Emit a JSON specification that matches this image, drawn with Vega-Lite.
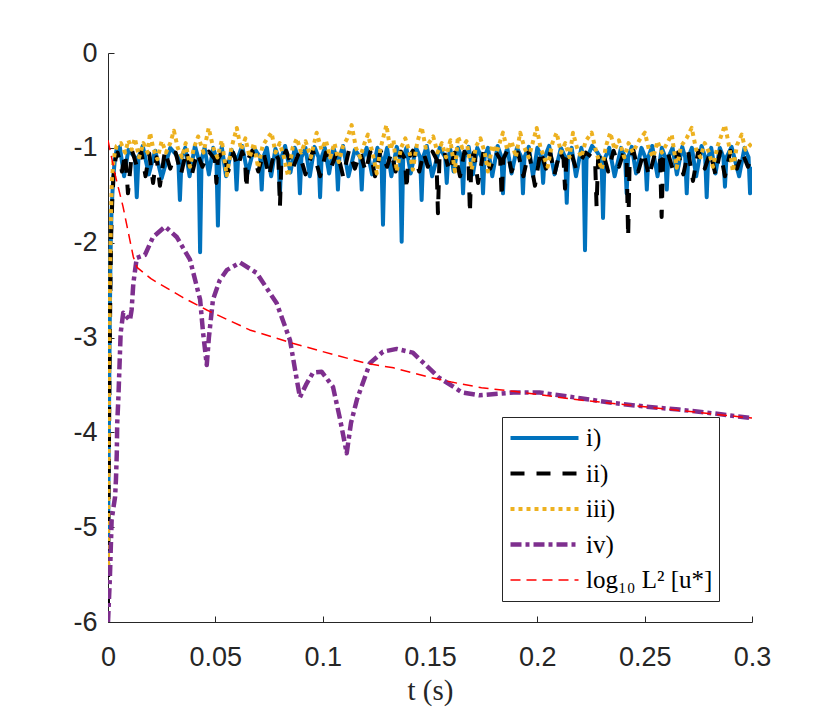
{
  "$schema": "https://vega.github.io/schema/vega-lite/v6.json",
  "width": 644,
  "height": 569,
  "autosize": "none",
  "padding": {"left": 108, "top": 53, "right": 78, "bottom": 97},
  "background": "white",
  "config": {
    "view": {"stroke": null},
    "axis": {
      "grid": false,
      "domainColor": "#262626",
      "tickColor": "#262626",
      "labelColor": "#262626",
      "titleColor": "#262626",
      "labelFont": "Liberation Sans",
      "labelFontSize": 27,
      "tickSize": -6,
      "domainWidth": 1,
      "tickWidth": 1,
      "labelFlush": false
    }
  },
  "datasets": {
    "series": [
      {"s": "i)", "t": 0, "v": -5.3},
      {"s": "i)", "t": 0.0004, "v": -4.0},
      {"s": "i)", "t": 0.0008, "v": -2.9},
      {"s": "i)", "t": 0.0012, "v": -2.1},
      {"s": "i)", "t": 0.0016, "v": -1.7},
      {"s": "i)", "t": 0.002, "v": -1.5},
      {"s": "i)", "t": 0.0025, "v": -1.3},
      {"s": "i)", "t": 0.0032, "v": -1.12},
      {"s": "i)", "t": 0.004, "v": -1.02},
      {"s": "i)", "t": 0.0055, "v": -0.99},
      {"s": "i)", "t": 0.0075, "v": -1.3},
      {"s": "i)", "t": 0.0095, "v": -1.02},
      {"s": "i)", "t": 0.0126, "v": -1.1},
      {"s": "i)", "t": 0.0134, "v": -1.52},
      {"s": "i)", "t": 0.0142, "v": -1.1},
      {"s": "i)", "t": 0.0162, "v": -0.98},
      {"s": "i)", "t": 0.019, "v": -1.28},
      {"s": "i)", "t": 0.022, "v": -1.03},
      {"s": "i)", "t": 0.025, "v": -1.32},
      {"s": "i)", "t": 0.029, "v": -1.0},
      {"s": "i)", "t": 0.0327, "v": -1.1},
      {"s": "i)", "t": 0.0335, "v": -1.55},
      {"s": "i)", "t": 0.0343, "v": -1.1},
      {"s": "i)", "t": 0.036, "v": -1.0},
      {"s": "i)", "t": 0.038, "v": -1.3},
      {"s": "i)", "t": 0.0405, "v": -0.98},
      {"s": "i)", "t": 0.0422, "v": -1.12},
      {"s": "i)", "t": 0.0429, "v": -2.1},
      {"s": "i)", "t": 0.0436, "v": -1.12},
      {"s": "i)", "t": 0.045, "v": -1.0},
      {"s": "i)", "t": 0.047, "v": -1.28},
      {"s": "i)", "t": 0.049, "v": -1.0},
      {"s": "i)", "t": 0.0505, "v": -1.12},
      {"s": "i)", "t": 0.0512, "v": -1.82},
      {"s": "i)", "t": 0.0519, "v": -1.12},
      {"s": "i)", "t": 0.053, "v": -0.99},
      {"s": "i)", "t": 0.055, "v": -1.3},
      {"s": "i)", "t": 0.0575, "v": -1.02},
      {"s": "i)", "t": 0.0592, "v": -1.1},
      {"s": "i)", "t": 0.0599, "v": -1.44},
      {"s": "i)", "t": 0.0606, "v": -1.1},
      {"s": "i)", "t": 0.0625, "v": -0.98},
      {"s": "i)", "t": 0.065, "v": -1.27},
      {"s": "i)", "t": 0.068, "v": -1.0},
      {"s": "i)", "t": 0.0709, "v": -1.1},
      {"s": "i)", "t": 0.0716, "v": -1.44},
      {"s": "i)", "t": 0.0723, "v": -1.1},
      {"s": "i)", "t": 0.074, "v": -1.0},
      {"s": "i)", "t": 0.076, "v": -1.3},
      {"s": "i)", "t": 0.078, "v": -1.01},
      {"s": "i)", "t": 0.0794, "v": -1.1},
      {"s": "i)", "t": 0.0801, "v": -1.48},
      {"s": "i)", "t": 0.0808, "v": -1.1},
      {"s": "i)", "t": 0.0825, "v": -0.98},
      {"s": "i)", "t": 0.085, "v": -1.26},
      {"s": "i)", "t": 0.087, "v": -1.0},
      {"s": "i)", "t": 0.0887, "v": -1.1},
      {"s": "i)", "t": 0.0894, "v": -1.48},
      {"s": "i)", "t": 0.0901, "v": -1.1},
      {"s": "i)", "t": 0.092, "v": -1.0},
      {"s": "i)", "t": 0.094, "v": -1.3},
      {"s": "i)", "t": 0.0962, "v": -0.99},
      {"s": "i)", "t": 0.0981, "v": -1.1},
      {"s": "i)", "t": 0.0988, "v": -1.52},
      {"s": "i)", "t": 0.0995, "v": -1.1},
      {"s": "i)", "t": 0.101, "v": -1.0},
      {"s": "i)", "t": 0.103, "v": -1.27},
      {"s": "i)", "t": 0.105, "v": -1.0},
      {"s": "i)", "t": 0.1064, "v": -1.1},
      {"s": "i)", "t": 0.1071, "v": -1.44},
      {"s": "i)", "t": 0.1078, "v": -1.1},
      {"s": "i)", "t": 0.1095, "v": -0.98},
      {"s": "i)", "t": 0.112, "v": -1.3},
      {"s": "i)", "t": 0.115, "v": -1.02},
      {"s": "i)", "t": 0.1175, "v": -1.1},
      {"s": "i)", "t": 0.1182, "v": -1.44},
      {"s": "i)", "t": 0.1189, "v": -1.1},
      {"s": "i)", "t": 0.1205, "v": -1.0},
      {"s": "i)", "t": 0.123, "v": -1.28},
      {"s": "i)", "t": 0.1255, "v": -1.0},
      {"s": "i)", "t": 0.1274, "v": -1.12},
      {"s": "i)", "t": 0.1281, "v": -1.81},
      {"s": "i)", "t": 0.1288, "v": -1.12},
      {"s": "i)", "t": 0.13, "v": -1.0},
      {"s": "i)", "t": 0.132, "v": -1.3},
      {"s": "i)", "t": 0.1345, "v": -0.99},
      {"s": "i)", "t": 0.1361, "v": -1.12},
      {"s": "i)", "t": 0.1368, "v": -1.99},
      {"s": "i)", "t": 0.1375, "v": -1.12},
      {"s": "i)", "t": 0.139, "v": -1.0},
      {"s": "i)", "t": 0.141, "v": -1.27},
      {"s": "i)", "t": 0.1435, "v": -1.0},
      {"s": "i)", "t": 0.1454, "v": -1.1},
      {"s": "i)", "t": 0.1461, "v": -1.55},
      {"s": "i)", "t": 0.1468, "v": -1.1},
      {"s": "i)", "t": 0.1485, "v": -0.98},
      {"s": "i)", "t": 0.151, "v": -1.3},
      {"s": "i)", "t": 0.1545, "v": -1.0},
      {"s": "i)", "t": 0.1571, "v": -1.1},
      {"s": "i)", "t": 0.1578, "v": -1.37},
      {"s": "i)", "t": 0.1585, "v": -1.1},
      {"s": "i)", "t": 0.1595, "v": -1.02},
      {"s": "i)", "t": 0.161, "v": -1.25},
      {"s": "i)", "t": 0.163, "v": -1.0},
      {"s": "i)", "t": 0.1647, "v": -1.1},
      {"s": "i)", "t": 0.1654, "v": -1.48},
      {"s": "i)", "t": 0.1661, "v": -1.1},
      {"s": "i)", "t": 0.168, "v": -0.99},
      {"s": "i)", "t": 0.17, "v": -1.28},
      {"s": "i)", "t": 0.172, "v": -1.0},
      {"s": "i)", "t": 0.174, "v": -1.1},
      {"s": "i)", "t": 0.1747, "v": -1.48},
      {"s": "i)", "t": 0.1754, "v": -1.1},
      {"s": "i)", "t": 0.177, "v": -1.0},
      {"s": "i)", "t": 0.179, "v": -1.3},
      {"s": "i)", "t": 0.1815, "v": -0.98},
      {"s": "i)", "t": 0.1833, "v": -1.1},
      {"s": "i)", "t": 0.184, "v": -1.48},
      {"s": "i)", "t": 0.1847, "v": -1.1},
      {"s": "i)", "t": 0.186, "v": -1.0},
      {"s": "i)", "t": 0.188, "v": -1.27},
      {"s": "i)", "t": 0.1905, "v": -1.0},
      {"s": "i)", "t": 0.1926, "v": -1.1},
      {"s": "i)", "t": 0.1933, "v": -1.48},
      {"s": "i)", "t": 0.194, "v": -1.1},
      {"s": "i)", "t": 0.196, "v": -0.99},
      {"s": "i)", "t": 0.198, "v": -1.3},
      {"s": "i)", "t": 0.2, "v": -1.0},
      {"s": "i)", "t": 0.202, "v": -1.1},
      {"s": "i)", "t": 0.2027, "v": -1.37},
      {"s": "i)", "t": 0.2034, "v": -1.1},
      {"s": "i)", "t": 0.2055, "v": -0.98},
      {"s": "i)", "t": 0.208, "v": -1.28},
      {"s": "i)", "t": 0.211, "v": -1.0},
      {"s": "i)", "t": 0.213, "v": -1.1},
      {"s": "i)", "t": 0.2137, "v": -1.58},
      {"s": "i)", "t": 0.2144, "v": -1.1},
      {"s": "i)", "t": 0.216, "v": -1.0},
      {"s": "i)", "t": 0.218, "v": -1.3},
      {"s": "i)", "t": 0.2205, "v": -1.0},
      {"s": "i)", "t": 0.2215, "v": -1.12},
      {"s": "i)", "t": 0.2222, "v": -2.08},
      {"s": "i)", "t": 0.2229, "v": -1.12},
      {"s": "i)", "t": 0.2255, "v": -0.98},
      {"s": "i)", "t": 0.228, "v": -1.05},
      {"s": "i)", "t": 0.2299, "v": -1.12},
      {"s": "i)", "t": 0.2306, "v": -1.74},
      {"s": "i)", "t": 0.2313, "v": -1.12},
      {"s": "i)", "t": 0.2335, "v": -1.0},
      {"s": "i)", "t": 0.236, "v": -1.3},
      {"s": "i)", "t": 0.239, "v": -1.0},
      {"s": "i)", "t": 0.2409, "v": -1.1},
      {"s": "i)", "t": 0.2416, "v": -1.48},
      {"s": "i)", "t": 0.2423, "v": -1.1},
      {"s": "i)", "t": 0.244, "v": -0.99},
      {"s": "i)", "t": 0.246, "v": -1.27},
      {"s": "i)", "t": 0.2485, "v": -1.0},
      {"s": "i)", "t": 0.2503, "v": -1.1},
      {"s": "i)", "t": 0.251, "v": -1.44},
      {"s": "i)", "t": 0.2517, "v": -1.1},
      {"s": "i)", "t": 0.2535, "v": -0.98},
      {"s": "i)", "t": 0.256, "v": -1.3},
      {"s": "i)", "t": 0.258, "v": -1.0},
      {"s": "i)", "t": 0.2596, "v": -1.1},
      {"s": "i)", "t": 0.2603, "v": -1.44},
      {"s": "i)", "t": 0.261, "v": -1.1},
      {"s": "i)", "t": 0.263, "v": -1.0},
      {"s": "i)", "t": 0.265, "v": -1.28},
      {"s": "i)", "t": 0.2675, "v": -0.99},
      {"s": "i)", "t": 0.2689, "v": -1.1},
      {"s": "i)", "t": 0.2696, "v": -1.48},
      {"s": "i)", "t": 0.2703, "v": -1.1},
      {"s": "i)", "t": 0.272, "v": -1.0},
      {"s": "i)", "t": 0.274, "v": -1.3},
      {"s": "i)", "t": 0.2765, "v": -0.98},
      {"s": "i)", "t": 0.2782, "v": -1.1},
      {"s": "i)", "t": 0.2789, "v": -1.52},
      {"s": "i)", "t": 0.2796, "v": -1.1},
      {"s": "i)", "t": 0.281, "v": -1.0},
      {"s": "i)", "t": 0.283, "v": -1.27},
      {"s": "i)", "t": 0.285, "v": -1.0},
      {"s": "i)", "t": 0.2867, "v": -1.1},
      {"s": "i)", "t": 0.2874, "v": -1.41},
      {"s": "i)", "t": 0.2881, "v": -1.1},
      {"s": "i)", "t": 0.2905, "v": -0.99},
      {"s": "i)", "t": 0.294, "v": -1.3},
      {"s": "i)", "t": 0.2965, "v": -1.0},
      {"s": "i)", "t": 0.2984, "v": -1.1},
      {"s": "i)", "t": 0.2991, "v": -1.48},
      {"s": "i)", "t": 0.3, "v": -1.2},

      {"s": "ii)", "t": 0, "v": -5.8},
      {"s": "ii)", "t": 0.0003, "v": -4.6},
      {"s": "ii)", "t": 0.0007, "v": -3.4},
      {"s": "ii)", "t": 0.0011, "v": -2.5},
      {"s": "ii)", "t": 0.0015, "v": -1.9},
      {"s": "ii)", "t": 0.002, "v": -1.55},
      {"s": "ii)", "t": 0.0026, "v": -1.3},
      {"s": "ii)", "t": 0.0035, "v": -1.12},
      {"s": "ii)", "t": 0.0045, "v": -1.05},
      {"s": "ii)", "t": 0.0065, "v": -1.25},
      {"s": "ii)", "t": 0.008, "v": -1.06},
      {"s": "ii)", "t": 0.0093, "v": -1.48},
      {"s": "ii)", "t": 0.0112, "v": -1.03},
      {"s": "ii)", "t": 0.0135, "v": -1.2},
      {"s": "ii)", "t": 0.0155, "v": -1.04},
      {"s": "ii)", "t": 0.0175, "v": -1.3},
      {"s": "ii)", "t": 0.0192, "v": -1.06},
      {"s": "ii)", "t": 0.021, "v": -1.37},
      {"s": "ii)", "t": 0.0226, "v": -1.1},
      {"s": "ii)", "t": 0.0242, "v": -1.4},
      {"s": "ii)", "t": 0.0265, "v": -1.03},
      {"s": "ii)", "t": 0.029, "v": -1.22},
      {"s": "ii)", "t": 0.0315, "v": -1.05},
      {"s": "ii)", "t": 0.034, "v": -1.28},
      {"s": "ii)", "t": 0.0365, "v": -1.03},
      {"s": "ii)", "t": 0.0389, "v": -1.3},
      {"s": "ii)", "t": 0.0415, "v": -1.05},
      {"s": "ii)", "t": 0.044, "v": -1.2},
      {"s": "ii)", "t": 0.047, "v": -1.04},
      {"s": "ii)", "t": 0.0498, "v": -1.12},
      {"s": "ii)", "t": 0.0505, "v": -1.37},
      {"s": "ii)", "t": 0.0512, "v": -1.12},
      {"s": "ii)", "t": 0.0535, "v": -1.03},
      {"s": "ii)", "t": 0.056, "v": -1.25},
      {"s": "ii)", "t": 0.0583, "v": -1.05},
      {"s": "ii)", "t": 0.0605, "v": -1.2},
      {"s": "ii)", "t": 0.0625, "v": -1.04},
      {"s": "ii)", "t": 0.0638, "v": -1.12},
      {"s": "ii)", "t": 0.0645, "v": -1.43},
      {"s": "ii)", "t": 0.0652, "v": -1.12},
      {"s": "ii)", "t": 0.0672, "v": -1.03},
      {"s": "ii)", "t": 0.07, "v": -1.25},
      {"s": "ii)", "t": 0.0725, "v": -1.05},
      {"s": "ii)", "t": 0.075, "v": -1.3},
      {"s": "ii)", "t": 0.0775, "v": -1.04},
      {"s": "ii)", "t": 0.0794, "v": -1.12},
      {"s": "ii)", "t": 0.0801, "v": -1.62},
      {"s": "ii)", "t": 0.0808, "v": -1.12},
      {"s": "ii)", "t": 0.083, "v": -1.03},
      {"s": "ii)", "t": 0.086, "v": -1.22},
      {"s": "ii)", "t": 0.089, "v": -1.05},
      {"s": "ii)", "t": 0.092, "v": -1.28},
      {"s": "ii)", "t": 0.0955, "v": -1.03},
      {"s": "ii)", "t": 0.0988, "v": -1.3},
      {"s": "ii)", "t": 0.1015, "v": -1.05},
      {"s": "ii)", "t": 0.104, "v": -1.2},
      {"s": "ii)", "t": 0.1068, "v": -1.04},
      {"s": "ii)", "t": 0.1095, "v": -1.3},
      {"s": "ii)", "t": 0.1122, "v": -1.03},
      {"s": "ii)", "t": 0.115, "v": -1.22},
      {"s": "ii)", "t": 0.1175, "v": -1.05},
      {"s": "ii)", "t": 0.12, "v": -1.25},
      {"s": "ii)", "t": 0.1222, "v": -1.04},
      {"s": "ii)", "t": 0.1244, "v": -1.3},
      {"s": "ii)", "t": 0.127, "v": -1.03},
      {"s": "ii)", "t": 0.13, "v": -1.2},
      {"s": "ii)", "t": 0.132, "v": -1.05},
      {"s": "ii)", "t": 0.134, "v": -1.25},
      {"s": "ii)", "t": 0.1365, "v": -1.04},
      {"s": "ii)", "t": 0.1384, "v": -1.12},
      {"s": "ii)", "t": 0.1391, "v": -1.44},
      {"s": "ii)", "t": 0.1398, "v": -1.12},
      {"s": "ii)", "t": 0.142, "v": -1.03},
      {"s": "ii)", "t": 0.145, "v": -1.25},
      {"s": "ii)", "t": 0.147, "v": -1.05},
      {"s": "ii)", "t": 0.149, "v": -1.2},
      {"s": "ii)", "t": 0.1512, "v": -1.04},
      {"s": "ii)", "t": 0.153, "v": -1.12},
      {"s": "ii)", "t": 0.1537, "v": -1.69},
      {"s": "ii)", "t": 0.1544, "v": -1.12},
      {"s": "ii)", "t": 0.1565, "v": -1.03},
      {"s": "ii)", "t": 0.159, "v": -1.25},
      {"s": "ii)", "t": 0.1615, "v": -1.05},
      {"s": "ii)", "t": 0.164, "v": -1.3},
      {"s": "ii)", "t": 0.166, "v": -1.04},
      {"s": "ii)", "t": 0.1679, "v": -1.12},
      {"s": "ii)", "t": 0.1686, "v": -1.69},
      {"s": "ii)", "t": 0.1693, "v": -1.12},
      {"s": "ii)", "t": 0.1705, "v": -1.05},
      {"s": "ii)", "t": 0.1724, "v": -1.37},
      {"s": "ii)", "t": 0.175, "v": -1.03},
      {"s": "ii)", "t": 0.178, "v": -1.22},
      {"s": "ii)", "t": 0.1808, "v": -1.05},
      {"s": "ii)", "t": 0.1827, "v": -1.12},
      {"s": "ii)", "t": 0.1834, "v": -1.52},
      {"s": "ii)", "t": 0.1841, "v": -1.12},
      {"s": "ii)", "t": 0.186, "v": -1.03},
      {"s": "ii)", "t": 0.188, "v": -1.25},
      {"s": "ii)", "t": 0.191, "v": -1.05},
      {"s": "ii)", "t": 0.1935, "v": -1.3},
      {"s": "ii)", "t": 0.196, "v": -1.04},
      {"s": "ii)", "t": 0.1989, "v": -1.4},
      {"s": "ii)", "t": 0.2015, "v": -1.03},
      {"s": "ii)", "t": 0.204, "v": -1.22},
      {"s": "ii)", "t": 0.206, "v": -1.05},
      {"s": "ii)", "t": 0.208, "v": -1.28},
      {"s": "ii)", "t": 0.2105, "v": -1.04},
      {"s": "ii)", "t": 0.2122, "v": -1.12},
      {"s": "ii)", "t": 0.2129, "v": -1.43},
      {"s": "ii)", "t": 0.2136, "v": -1.12},
      {"s": "ii)", "t": 0.2155, "v": -1.03},
      {"s": "ii)", "t": 0.218, "v": -1.22},
      {"s": "ii)", "t": 0.2225, "v": -1.05},
      {"s": "ii)", "t": 0.2269, "v": -1.12},
      {"s": "ii)", "t": 0.2276, "v": -1.62},
      {"s": "ii)", "t": 0.2283, "v": -1.12},
      {"s": "ii)", "t": 0.2305, "v": -1.04},
      {"s": "ii)", "t": 0.233, "v": -1.25},
      {"s": "ii)", "t": 0.2355, "v": -1.03},
      {"s": "ii)", "t": 0.238, "v": -1.2},
      {"s": "ii)", "t": 0.2402, "v": -1.05},
      {"s": "ii)", "t": 0.2416, "v": -1.14},
      {"s": "ii)", "t": 0.2423, "v": -1.94},
      {"s": "ii)", "t": 0.243, "v": -1.14},
      {"s": "ii)", "t": 0.2448, "v": -1.03},
      {"s": "ii)", "t": 0.247, "v": -1.25},
      {"s": "ii)", "t": 0.2495, "v": -1.05},
      {"s": "ii)", "t": 0.252, "v": -1.3},
      {"s": "ii)", "t": 0.255, "v": -1.04},
      {"s": "ii)", "t": 0.2572, "v": -1.12},
      {"s": "ii)", "t": 0.2579, "v": -1.73},
      {"s": "ii)", "t": 0.2586, "v": -1.12},
      {"s": "ii)", "t": 0.2605, "v": -1.03},
      {"s": "ii)", "t": 0.263, "v": -1.22},
      {"s": "ii)", "t": 0.2655, "v": -1.05},
      {"s": "ii)", "t": 0.268, "v": -1.28},
      {"s": "ii)", "t": 0.2703, "v": -1.04},
      {"s": "ii)", "t": 0.2725, "v": -1.35},
      {"s": "ii)", "t": 0.275, "v": -1.03},
      {"s": "ii)", "t": 0.278, "v": -1.22},
      {"s": "ii)", "t": 0.2805, "v": -1.05},
      {"s": "ii)", "t": 0.283, "v": -1.28},
      {"s": "ii)", "t": 0.2852, "v": -1.04},
      {"s": "ii)", "t": 0.2874, "v": -1.3},
      {"s": "ii)", "t": 0.29, "v": -1.03},
      {"s": "ii)", "t": 0.293, "v": -1.22},
      {"s": "ii)", "t": 0.2955, "v": -1.05},
      {"s": "ii)", "t": 0.2981, "v": -1.2},
      {"s": "ii)", "t": 0.3, "v": -1.08},

      {"s": "iii)", "t": 0, "v": -5.4},
      {"s": "iii)", "t": 0.0003, "v": -4.2},
      {"s": "iii)", "t": 0.0006, "v": -3.2},
      {"s": "iii)", "t": 0.001, "v": -2.3},
      {"s": "iii)", "t": 0.0014, "v": -1.7},
      {"s": "iii)", "t": 0.0018, "v": -1.35},
      {"s": "iii)", "t": 0.0025, "v": -1.15},
      {"s": "iii)", "t": 0.0032, "v": -1.05},
      {"s": "iii)", "t": 0.004, "v": -0.98},
      {"s": "iii)", "t": 0.006, "v": -0.95},
      {"s": "iii)", "t": 0.008, "v": -1.05},
      {"s": "iii)", "t": 0.0095, "v": -0.92},
      {"s": "iii)", "t": 0.011, "v": -1.02},
      {"s": "iii)", "t": 0.0125, "v": -0.9},
      {"s": "iii)", "t": 0.0145, "v": -1.1},
      {"s": "iii)", "t": 0.0165, "v": -0.95},
      {"s": "iii)", "t": 0.0185, "v": -1.05},
      {"s": "iii)", "t": 0.0196, "v": -0.84},
      {"s": "iii)", "t": 0.021, "v": -1.0},
      {"s": "iii)", "t": 0.023, "v": -1.12},
      {"s": "iii)", "t": 0.025, "v": -0.93},
      {"s": "iii)", "t": 0.027, "v": -1.05},
      {"s": "iii)", "t": 0.029, "v": -0.95},
      {"s": "iii)", "t": 0.0307, "v": -0.82},
      {"s": "iii)", "t": 0.0325, "v": -1.0},
      {"s": "iii)", "t": 0.0345, "v": -1.1},
      {"s": "iii)", "t": 0.0362, "v": -0.95},
      {"s": "iii)", "t": 0.0382, "v": -1.2},
      {"s": "iii)", "t": 0.04, "v": -1.0},
      {"s": "iii)", "t": 0.042, "v": -0.88},
      {"s": "iii)", "t": 0.0445, "v": -1.05},
      {"s": "iii)", "t": 0.0469, "v": -0.79},
      {"s": "iii)", "t": 0.049, "v": -1.0},
      {"s": "iii)", "t": 0.051, "v": -1.1},
      {"s": "iii)", "t": 0.053, "v": -0.92},
      {"s": "iii)", "t": 0.0553, "v": -1.29},
      {"s": "iii)", "t": 0.0575, "v": -1.0},
      {"s": "iii)", "t": 0.06, "v": -0.79},
      {"s": "iii)", "t": 0.062, "v": -1.02},
      {"s": "iii)", "t": 0.064, "v": -0.9},
      {"s": "iii)", "t": 0.066, "v": -1.1},
      {"s": "iii)", "t": 0.068, "v": -0.95},
      {"s": "iii)", "t": 0.0699, "v": -1.21},
      {"s": "iii)", "t": 0.072, "v": -0.98},
      {"s": "iii)", "t": 0.0742, "v": -0.9},
      {"s": "iii)", "t": 0.0762, "v": -0.84},
      {"s": "iii)", "t": 0.078, "v": -1.05},
      {"s": "iii)", "t": 0.08, "v": -0.95},
      {"s": "iii)", "t": 0.082, "v": -1.1},
      {"s": "iii)", "t": 0.0839, "v": -1.3},
      {"s": "iii)", "t": 0.086, "v": -1.0},
      {"s": "iii)", "t": 0.088, "v": -0.9},
      {"s": "iii)", "t": 0.09, "v": -1.05},
      {"s": "iii)", "t": 0.092, "v": -0.93},
      {"s": "iii)", "t": 0.0945, "v": -1.1},
      {"s": "iii)", "t": 0.0972, "v": -0.84},
      {"s": "iii)", "t": 0.0995, "v": -1.02},
      {"s": "iii)", "t": 0.1015, "v": -0.92},
      {"s": "iii)", "t": 0.1035, "v": -1.1},
      {"s": "iii)", "t": 0.1055, "v": -0.95},
      {"s": "iii)", "t": 0.1075, "v": -1.15},
      {"s": "iii)", "t": 0.1095, "v": -0.98},
      {"s": "iii)", "t": 0.1115, "v": -0.9},
      {"s": "iii)", "t": 0.1135, "v": -0.76},
      {"s": "iii)", "t": 0.1155, "v": -1.0},
      {"s": "iii)", "t": 0.1175, "v": -1.1},
      {"s": "iii)", "t": 0.1195, "v": -0.95},
      {"s": "iii)", "t": 0.1211, "v": -0.86},
      {"s": "iii)", "t": 0.1232, "v": -1.05},
      {"s": "iii)", "t": 0.1252, "v": -1.27},
      {"s": "iii)", "t": 0.127, "v": -1.0},
      {"s": "iii)", "t": 0.1297, "v": -0.76},
      {"s": "iii)", "t": 0.1315, "v": -1.02},
      {"s": "iii)", "t": 0.133, "v": -0.92},
      {"s": "iii)", "t": 0.1345, "v": -1.25},
      {"s": "iii)", "t": 0.1365, "v": -1.0},
      {"s": "iii)", "t": 0.1385, "v": -0.9},
      {"s": "iii)", "t": 0.1405, "v": -1.05},
      {"s": "iii)", "t": 0.142, "v": -1.23},
      {"s": "iii)", "t": 0.144, "v": -0.95},
      {"s": "iii)", "t": 0.1461, "v": -0.78},
      {"s": "iii)", "t": 0.148, "v": -1.0},
      {"s": "iii)", "t": 0.1515, "v": -0.88},
      {"s": "iii)", "t": 0.1535, "v": -1.05},
      {"s": "iii)", "t": 0.1555, "v": -0.95},
      {"s": "iii)", "t": 0.1575, "v": -1.1},
      {"s": "iii)", "t": 0.1595, "v": -0.92},
      {"s": "iii)", "t": 0.1616, "v": -1.25},
      {"s": "iii)", "t": 0.163, "v": -0.88},
      {"s": "iii)", "t": 0.165, "v": -1.0},
      {"s": "iii)", "t": 0.167, "v": -0.93},
      {"s": "iii)", "t": 0.1694, "v": -1.23},
      {"s": "iii)", "t": 0.1715, "v": -0.98},
      {"s": "iii)", "t": 0.1735, "v": -0.9},
      {"s": "iii)", "t": 0.1755, "v": -1.05},
      {"s": "iii)", "t": 0.177, "v": -1.25},
      {"s": "iii)", "t": 0.179, "v": -0.97},
      {"s": "iii)", "t": 0.181, "v": -1.05},
      {"s": "iii)", "t": 0.184, "v": -0.84},
      {"s": "iii)", "t": 0.186, "v": -1.02},
      {"s": "iii)", "t": 0.188, "v": -0.93},
      {"s": "iii)", "t": 0.19, "v": -1.1},
      {"s": "iii)", "t": 0.192, "v": -0.84},
      {"s": "iii)", "t": 0.194, "v": -1.0},
      {"s": "iii)", "t": 0.196, "v": -1.1},
      {"s": "iii)", "t": 0.1997, "v": -0.79},
      {"s": "iii)", "t": 0.2015, "v": -1.0},
      {"s": "iii)", "t": 0.2048, "v": -1.2},
      {"s": "iii)", "t": 0.207, "v": -0.95},
      {"s": "iii)", "t": 0.209, "v": -0.84},
      {"s": "iii)", "t": 0.211, "v": -1.05},
      {"s": "iii)", "t": 0.213, "v": -0.95},
      {"s": "iii)", "t": 0.215, "v": -1.1},
      {"s": "iii)", "t": 0.2166, "v": -0.84},
      {"s": "iii)", "t": 0.2185, "v": -1.0},
      {"s": "iii)", "t": 0.2205, "v": -1.1},
      {"s": "iii)", "t": 0.2225, "v": -0.93},
      {"s": "iii)", "t": 0.2253, "v": -0.84},
      {"s": "iii)", "t": 0.2275, "v": -1.05},
      {"s": "iii)", "t": 0.23, "v": -1.23},
      {"s": "iii)", "t": 0.232, "v": -0.98},
      {"s": "iii)", "t": 0.234, "v": -0.84},
      {"s": "iii)", "t": 0.236, "v": -1.02},
      {"s": "iii)", "t": 0.238, "v": -0.92},
      {"s": "iii)", "t": 0.2405, "v": -1.1},
      {"s": "iii)", "t": 0.2425, "v": -0.95},
      {"s": "iii)", "t": 0.2445, "v": -1.05},
      {"s": "iii)", "t": 0.2475, "v": -0.92},
      {"s": "iii)", "t": 0.2501, "v": -0.84},
      {"s": "iii)", "t": 0.252, "v": -1.02},
      {"s": "iii)", "t": 0.254, "v": -1.1},
      {"s": "iii)", "t": 0.256, "v": -0.93},
      {"s": "iii)", "t": 0.258, "v": -1.05},
      {"s": "iii)", "t": 0.2605, "v": -0.95},
      {"s": "iii)", "t": 0.2626, "v": -0.86},
      {"s": "iii)", "t": 0.2649, "v": -1.21},
      {"s": "iii)", "t": 0.267, "v": -0.98},
      {"s": "iii)", "t": 0.2695, "v": -0.9},
      {"s": "iii)", "t": 0.2719, "v": -0.79},
      {"s": "iii)", "t": 0.274, "v": -1.02},
      {"s": "iii)", "t": 0.276, "v": -1.1},
      {"s": "iii)", "t": 0.278, "v": -0.95},
      {"s": "iii)", "t": 0.28, "v": -1.05},
      {"s": "iii)", "t": 0.2818, "v": -1.2},
      {"s": "iii)", "t": 0.284, "v": -0.98},
      {"s": "iii)", "t": 0.2874, "v": -0.76},
      {"s": "iii)", "t": 0.2895, "v": -1.0},
      {"s": "iii)", "t": 0.2911, "v": -1.25},
      {"s": "iii)", "t": 0.293, "v": -0.97},
      {"s": "iii)", "t": 0.2952, "v": -0.86},
      {"s": "iii)", "t": 0.297, "v": -1.02},
      {"s": "iii)", "t": 0.3, "v": -0.95},

      {"s": "iv)", "t": 0, "v": -6},
      {"s": "iv)", "t": 0.00014, "v": -5.93},
      {"s": "iv)", "t": 0.0009, "v": -5.52},
      {"s": "iv)", "t": 0.0017, "v": -4.92},
      {"s": "iv)", "t": 0.0033, "v": -4.68},
      {"s": "iv)", "t": 0.0037, "v": -4.5},
      {"s": "iv)", "t": 0.0041, "v": -4.22},
      {"s": "iv)", "t": 0.0043, "v": -3.9},
      {"s": "iv)", "t": 0.0048, "v": -3.66},
      {"s": "iv)", "t": 0.0059, "v": -2.95},
      {"s": "iv)", "t": 0.0071, "v": -2.74},
      {"s": "iv)", "t": 0.0102, "v": -2.82},
      {"s": "iv)", "t": 0.011, "v": -2.71},
      {"s": "iv)", "t": 0.0118, "v": -2.43},
      {"s": "iv)", "t": 0.0134, "v": -2.16},
      {"s": "iv)", "t": 0.0172, "v": -2.13},
      {"s": "iv)", "t": 0.021, "v": -1.94},
      {"s": "iv)", "t": 0.0266, "v": -1.83},
      {"s": "iv)", "t": 0.032, "v": -1.94},
      {"s": "iv)", "t": 0.0382, "v": -2.18},
      {"s": "iv)", "t": 0.0429, "v": -2.6},
      {"s": "iv)", "t": 0.0443, "v": -2.95},
      {"s": "iv)", "t": 0.046, "v": -3.29},
      {"s": "iv)", "t": 0.047, "v": -3.0},
      {"s": "iv)", "t": 0.0489, "v": -2.6},
      {"s": "iv)", "t": 0.052, "v": -2.4},
      {"s": "iv)", "t": 0.0553, "v": -2.29},
      {"s": "iv)", "t": 0.0615, "v": -2.21},
      {"s": "iv)", "t": 0.0693, "v": -2.32},
      {"s": "iv)", "t": 0.0786, "v": -2.64},
      {"s": "iv)", "t": 0.0848, "v": -3.03},
      {"s": "iv)", "t": 0.0876, "v": -3.4},
      {"s": "iv)", "t": 0.0894, "v": -3.63},
      {"s": "iv)", "t": 0.0922, "v": -3.5},
      {"s": "iv)", "t": 0.0955, "v": -3.37},
      {"s": "iv)", "t": 0.0995, "v": -3.36},
      {"s": "iv)", "t": 0.1048, "v": -3.52},
      {"s": "iv)", "t": 0.108, "v": -3.85},
      {"s": "iv)", "t": 0.1112, "v": -4.22},
      {"s": "iv)", "t": 0.1132, "v": -3.9},
      {"s": "iv)", "t": 0.1159, "v": -3.66},
      {"s": "iv)", "t": 0.122, "v": -3.27},
      {"s": "iv)", "t": 0.1281, "v": -3.15},
      {"s": "iv)", "t": 0.1345, "v": -3.12},
      {"s": "iv)", "t": 0.142, "v": -3.16},
      {"s": "iv)", "t": 0.154, "v": -3.42},
      {"s": "iv)", "t": 0.165, "v": -3.58},
      {"s": "iv)", "t": 0.173, "v": -3.61},
      {"s": "iv)", "t": 0.189, "v": -3.58},
      {"s": "iv)", "t": 0.201, "v": -3.58},
      {"s": "iv)", "t": 0.22, "v": -3.64},
      {"s": "iv)", "t": 0.235, "v": -3.69},
      {"s": "iv)", "t": 0.251, "v": -3.73},
      {"s": "iv)", "t": 0.266, "v": -3.76},
      {"s": "iv)", "t": 0.282, "v": -3.8},
      {"s": "iv)", "t": 0.3, "v": -3.85},

      {"s": "log₁₀ L² [u*]", "t": 0, "v": -0.92},
      {"s": "log₁₀ L² [u*]", "t": 0.0035, "v": -1.3},
      {"s": "log₁₀ L² [u*]", "t": 0.007, "v": -1.62},
      {"s": "log₁₀ L² [u*]", "t": 0.0118, "v": -2.15},
      {"s": "log₁₀ L² [u*]", "t": 0.0135, "v": -2.26},
      {"s": "log₁₀ L² [u*]", "t": 0.02, "v": -2.38},
      {"s": "log₁₀ L² [u*]", "t": 0.035, "v": -2.58},
      {"s": "log₁₀ L² [u*]", "t": 0.046, "v": -2.71},
      {"s": "log₁₀ L² [u*]", "t": 0.066, "v": -2.92},
      {"s": "log₁₀ L² [u*]", "t": 0.086, "v": -3.06},
      {"s": "log₁₀ L² [u*]", "t": 0.105, "v": -3.18},
      {"s": "log₁₀ L² [u*]", "t": 0.12, "v": -3.27},
      {"s": "log₁₀ L² [u*]", "t": 0.133, "v": -3.32},
      {"s": "log₁₀ L² [u*]", "t": 0.15, "v": -3.42},
      {"s": "log₁₀ L² [u*]", "t": 0.16, "v": -3.47},
      {"s": "log₁₀ L² [u*]", "t": 0.174, "v": -3.53},
      {"s": "log₁₀ L² [u*]", "t": 0.19, "v": -3.57},
      {"s": "log₁₀ L² [u*]", "t": 0.22, "v": -3.66},
      {"s": "log₁₀ L² [u*]", "t": 0.25, "v": -3.73},
      {"s": "log₁₀ L² [u*]", "t": 0.275, "v": -3.79},
      {"s": "log₁₀ L² [u*]", "t": 0.3, "v": -3.85}
    ]
  },
  "data": {"name": "series"},
  "mark": {"type": "line", "clip": true, "strokeCap": "butt", "strokeJoin": "round"},
  "encoding": {
    "x": {
      "field": "t",
      "type": "quantitative",
      "scale": {"domain": [0, 0.3], "nice": false, "zero": false},
      "axis": {
        "values": [0, 0.05, 0.1, 0.15, 0.2, 0.25, 0.3],
        "labelExpr": "'' + datum.value",
        "labelPadding": 28,
        "title": "t (s)",
        "titleFont": "Liberation Serif",
        "titleFontSize": 29,
        "titleFontWeight": "normal",
        "titlePadding": 6
      }
    },
    "y": {
      "field": "v",
      "type": "quantitative",
      "scale": {"domain": [-6, 0], "nice": false, "zero": false},
      "axis": {
        "values": [0, -1, -2, -3, -4, -5, -6],
        "labelExpr": "'' + datum.value",
        "labelPadding": 17,
        "title": null
      }
    },
    "color": {
      "field": "s",
      "type": "nominal",
      "scale": {
        "domain": ["i)", "ii)", "iii)", "iv)", "log₁₀ L² [u*]"],
        "range": ["#0072BD", "#000000", "#EDB120", "#7E2F8E", "#FF0000"]
      },
      "legend": {
        "title": null,
        "orient": "none",
        "legendX": 394,
        "legendY": 364,
        "symbolType": "stroke",
        "symbolSize": 4624,
        "clipHeight": 30,
        "rowPadding": 5.5,
        "padding": 6,
        "labelOffset": 5,
        "labelFont": "Liberation Serif",
        "labelFontSize": 25,
        "labelColor": "#000000",
        "strokeColor": "#262626",
        "fillColor": "white",
        "cornerRadius": 0
      }
    },
    "strokeDash": {
      "field": "s",
      "type": "nominal",
      "scale": {
        "domain": ["i)", "ii)", "iii)", "iv)", "log₁₀ L² [u*]"],
        "range": [[1, 0], [14, 12], [4, 4], [11, 4, 4, 4], [10, 6]]
      },
      "legend": {"title": null}
    },
    "strokeWidth": {
      "field": "s",
      "type": "nominal",
      "scale": {
        "type": "ordinal",
        "domain": ["i)", "ii)", "iii)", "iv)", "log₁₀ L² [u*]"],
        "range": [4, 4, 4, 4.5, 1.5]
      },
      "legend": {"title": null}
    }
  }
}
